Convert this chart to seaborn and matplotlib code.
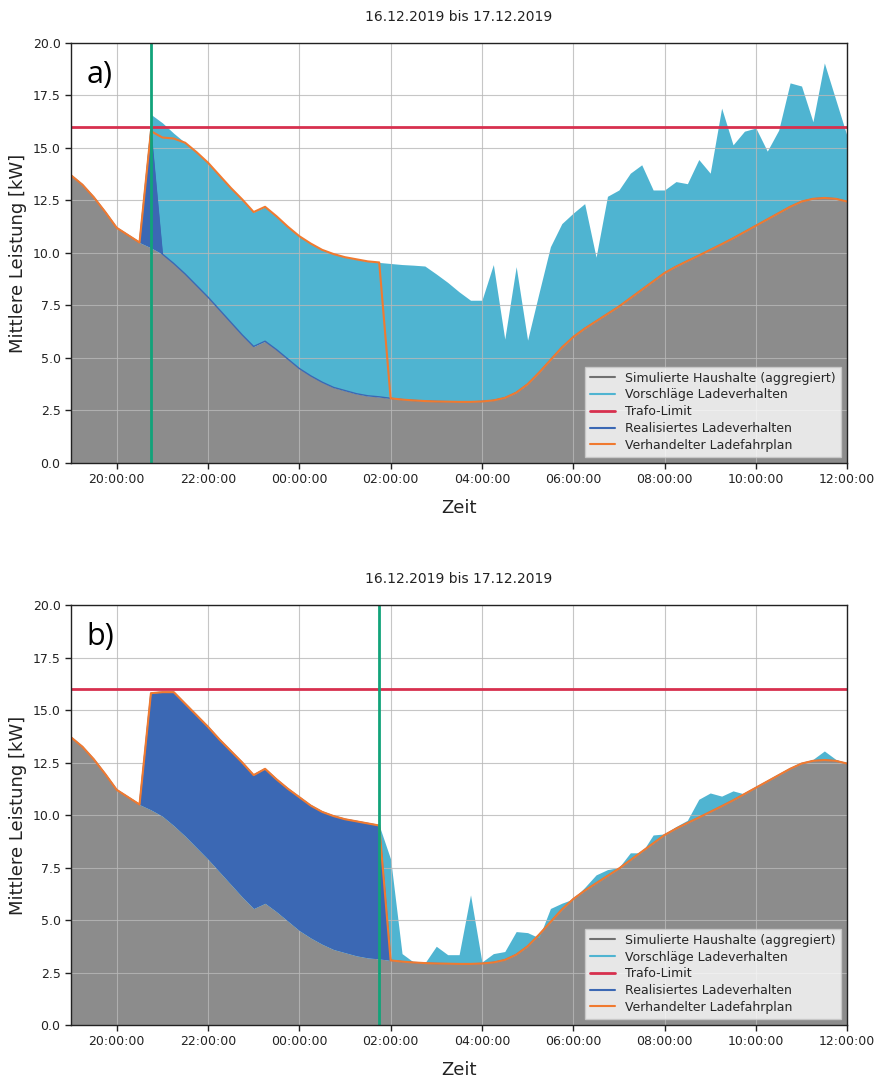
import numpy as np
import pandas as pd
import matplotlib
matplotlib.use("Agg")
import matplotlib.pyplot as plt
import matplotlib.dates as mdates
from matplotlib.lines import Line2D
import seaborn as sns

# 15-minute steps, 16.12.2019 19:00 .. 17.12.2019 12:00
times = pd.date_range("2019-12-16 19:00", "2019-12-17 12:00", freq="15min")

household = [
    13.70, 13.25, 12.65, 11.95, 11.20, 10.85, 10.50, 10.25,
    9.95, 9.50, 9.00, 8.45, 7.90, 7.30, 6.70, 6.10,
    5.55, 5.80, 5.40, 4.95, 4.50, 4.15, 3.85, 3.60,
    3.45, 3.30, 3.20, 3.15, 3.08, 3.02, 2.98, 2.95,
    2.93, 2.92, 2.91, 2.91, 2.93, 2.98, 3.10, 3.35,
    3.75, 4.30, 4.90, 5.50, 6.00, 6.40, 6.75, 7.10,
    7.45, 7.85, 8.25, 8.65, 9.05, 9.35, 9.62, 9.88,
    10.15, 10.42, 10.70, 11.00, 11.30, 11.60, 11.90, 12.20,
    12.45, 12.58, 12.62, 12.58, 12.45,
]

# panel a)
schedule_a = [
    13.70, 13.25, 12.65, 11.95, 11.20, 10.85, 10.50, 15.80,
    15.50, 15.45, 15.25, 14.80, 14.30, 13.70, 13.10, 12.55,
    11.95, 12.20, 11.75, 11.25, 10.80, 10.45, 10.15, 9.95,
    9.80, 9.70, 9.60, 9.55, 3.08, 3.02, 2.98, 2.95,
    2.93, 2.92, 2.91, 2.91, 2.93, 2.98, 3.10, 3.35,
    3.75, 4.30, 4.90, 5.50, 6.00, 6.40, 6.75, 7.10,
    7.45, 7.85, 8.25, 8.65, 9.05, 9.35, 9.62, 9.88,
    10.15, 10.42, 10.70, 11.00, 11.30, 11.60, 11.90, 12.20,
    12.45, 12.58, 12.62, 12.58, 12.45,
]
proposals_a = [
    13.70, 13.25, 12.65, 11.95, 11.20, 10.85, 10.50, 16.60,
    16.20, 15.70, 15.25, 14.80, 14.30, 13.70, 13.10, 12.55,
    11.95, 12.20, 11.75, 11.25, 10.80, 10.45, 10.15, 9.95,
    9.80, 9.70, 9.60, 9.55, 9.50, 9.45, 9.42, 9.38,
    9.00, 8.60, 8.15, 7.75, 7.75, 9.45, 5.90, 9.35,
    5.85, 8.10, 10.30, 11.40, 11.90, 12.35, 9.80, 12.70,
    13.00, 13.80, 14.20, 13.00, 13.00, 13.40, 13.30, 14.45,
    13.80, 16.90, 15.15, 15.80, 15.95, 14.85, 15.85, 18.10,
    17.95, 16.25, 19.05, 17.30, 15.55,
]
realized_a = [
    13.70, 13.25, 12.65, 11.95, 11.20, 10.85, 10.50, 15.80,
    9.95, 9.50, 9.00, 8.45, 7.90, 7.30, 6.70, 6.10,
    5.55, 5.80, 5.40, 4.95, 4.50, 4.15, 3.85, 3.60,
    3.45, 3.30, 3.20, 3.15, 3.08, 3.02, 2.98, 2.95,
    2.93, 2.92, 2.91, 2.91, 2.93, 2.98, 3.10, 3.35,
    3.75, 4.30, 4.90, 5.50, 6.00, 6.40, 6.75, 7.10,
    7.45, 7.85, 8.25, 8.65, 9.05, 9.35, 9.62, 9.88,
    10.15, 10.42, 10.70, 11.00, 11.30, 11.60, 11.90, 12.20,
    12.45, 12.58, 12.62, 12.58, 12.45,
]

# panel b)
schedule_b = [
    13.70, 13.25, 12.65, 11.95, 11.20, 10.85, 10.50, 15.80,
    15.85, 15.85, 15.30, 14.75, 14.20, 13.60, 13.05, 12.50,
    11.90, 12.20, 11.70, 11.25, 10.85, 10.45, 10.15, 9.95,
    9.80, 9.70, 9.60, 9.50, 3.08, 3.02, 2.98, 2.95,
    2.93, 2.92, 2.91, 2.91, 2.93, 2.98, 3.10, 3.35,
    3.75, 4.30, 4.90, 5.50, 6.00, 6.40, 6.75, 7.10,
    7.45, 7.85, 8.25, 8.65, 9.05, 9.35, 9.62, 9.88,
    10.15, 10.42, 10.70, 11.00, 11.30, 11.60, 11.90, 12.20,
    12.45, 12.58, 12.62, 12.58, 12.45,
]
proposals_b = [
    13.70, 13.25, 12.65, 11.95, 11.20, 10.85, 10.50, 15.80,
    15.85, 15.85, 15.30, 14.75, 14.20, 13.60, 13.05, 12.50,
    11.90, 12.20, 11.70, 11.25, 10.85, 10.45, 10.15, 9.95,
    9.80, 9.70, 9.60, 9.50, 7.90, 3.40, 3.00, 2.95,
    3.75, 3.35, 3.35, 6.20, 3.00, 3.40, 3.50, 4.45,
    4.40, 4.15, 5.55, 5.80, 6.00, 6.55, 7.15, 7.40,
    7.50, 8.20, 8.20, 9.05, 9.10, 9.45, 9.75, 10.75,
    11.05, 10.90, 11.15, 11.00, 11.30, 11.60, 11.90, 12.20,
    12.45, 12.65, 13.05, 12.65, 12.45,
]
realized_b = [
    13.70, 13.25, 12.65, 11.95, 11.20, 10.85, 10.50, 15.80,
    15.85, 15.85, 15.30, 14.75, 14.20, 13.60, 13.05, 12.50,
    11.90, 12.20, 11.70, 11.25, 10.85, 10.45, 10.15, 9.95,
    9.80, 9.70, 9.60, 9.50, 3.08, 3.02, 2.98, 2.95,
    2.93, 2.92, 2.91, 2.91, 2.93, 2.98, 3.10, 3.35,
    3.75, 4.30, 4.90, 5.50, 6.00, 6.40, 6.75, 7.10,
    7.45, 7.85, 8.25, 8.65, 9.05, 9.35, 9.62, 9.88,
    10.15, 10.42, 10.70, 11.00, 11.30, 11.60, 11.90, 12.20,
    12.45, 12.58, 12.62, 12.58, 12.45,
]

trafo_limit = 16.0
now_markers = [pd.Timestamp("2019-12-16 20:45"), pd.Timestamp("2019-12-17 01:45")]
panel_labels = ["a)", "b)"]

labels = ["Simulierte Haushalte (aggregiert)", "Vorschläge Ladeverhalten",
          "Trafo-Limit", "Realisiertes Ladeverhalten", "Verhandelter Ladefahrplan"]

c_gray = "#8c8c8c"
c_gray_line = "#707070"
c_light = "#4fb4d1"
c_dark = "#3b68b4"
c_red = "#d7304e"
c_orange = "#f07a30"
c_green = "#12a37a"

sns.set_theme(style="white")
plt.rcParams["font.family"] = ["DejaVu Sans"]

fig = plt.figure(figsize=(8.77, 10.8), dpi=100)
ax_a = fig.add_axes([0.081, 0.5713, 0.885, 0.3889])
ax_b = fig.add_axes([0.081, 0.0509, 0.885, 0.3889])

panels = [
    (ax_a, proposals_a, realized_a, schedule_a),
    (ax_b, proposals_b, realized_b, schedule_b),
]

for i, (ax, prop, real, sched) in enumerate(panels):
    df = pd.DataFrame({"Zeit": times, "household": household, "proposals": prop,
                       "realized": real, "schedule": sched})

    ax.fill_between(df["Zeit"], 0, df["household"], color=c_gray, lw=0, zorder=1)
    ax.fill_between(df["Zeit"], df["household"], df["proposals"], color=c_light, lw=0, zorder=2)
    ax.fill_between(df["Zeit"], df["household"], df["realized"], color=c_dark, lw=0, zorder=3)
    sns.lineplot(data=df, x="Zeit", y="realized", ax=ax, color=c_dark, lw=1, zorder=4)
    sns.lineplot(data=df, x="Zeit", y="schedule", ax=ax, color=c_orange, lw=1.5, zorder=5)
    ax.axhline(trafo_limit, color=c_red, lw=2, zorder=6)
    ax.axvline(now_markers[i], color=c_green, lw=2, zorder=7)

    ax.set_xlim(times[0], times[-1])
    ax.set_ylim(0, 20)
    ax.set_yticks(np.arange(0, 20.01, 2.5))
    ax.yaxis.set_major_formatter(matplotlib.ticker.FormatStrFormatter("%.1f"))
    ax.xaxis.set_major_locator(mdates.HourLocator(byhour=range(0, 24, 2)))
    ax.xaxis.set_major_formatter(mdates.DateFormatter("%H:%M:%S"))
    ax.grid(True, color="#b8b8b8", lw=0.8, alpha=0.8)
    ax.set_axisbelow(False)
    for gl in ax.get_xgridlines() + ax.get_ygridlines():
        gl.set_zorder(2.5)
    for sp in ax.spines.values():
        sp.set_color("#222222")
        sp.set_linewidth(1.0)
        sp.set_zorder(15)
    ax.tick_params(axis="both", labelsize=9, length=4, width=1, color="#222222",
                   labelcolor="#222222", left=True, bottom=True)

    ax.set_title("16.12.2019 bis 17.12.2019", fontsize=10, pad=16, color="#222222")
    ax.set_xlabel("Zeit", fontsize=13, labelpad=9, color="#222222")
    ax.set_ylabel("Mittlere Leistung [kW]", fontsize=13, color="#222222")
    ax.text(0.02, 0.96, panel_labels[i], transform=ax.transAxes, fontsize=22,
            family=["Open Sans", "DejaVu Sans"], va="top", ha="left", color="black",
            zorder=10)

    handles = [Line2D([], [], color=c_gray_line, lw=1.5),
               Line2D([], [], color=c_light, lw=1.5),
               Line2D([], [], color=c_red, lw=2),
               Line2D([], [], color=c_dark, lw=1.5),
               Line2D([], [], color=c_orange, lw=1.5)]
    leg = ax.legend(handles, labels, loc="lower right", fontsize=9, frameon=True,
                    framealpha=0.8, fancybox=False, edgecolor="#cccccc",
                    borderpad=0.4, labelspacing=0.3)
    leg.set_zorder(20)

fig.savefig("out.png", dpi=100)
